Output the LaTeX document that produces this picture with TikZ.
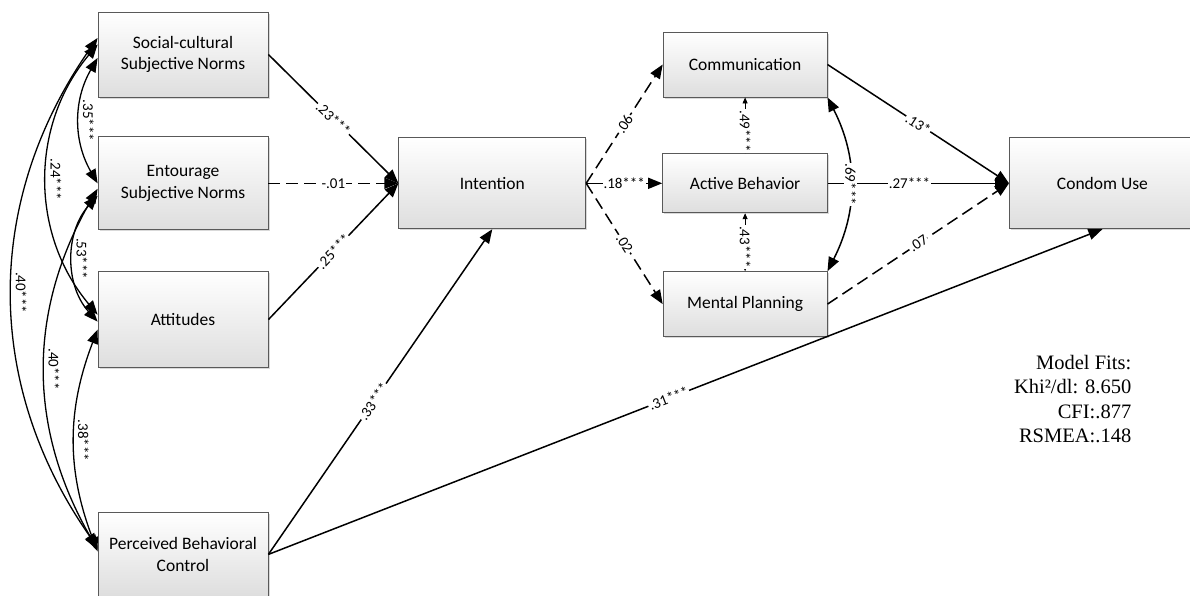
\documentclass[tikz,border=0pt]{standalone}
\usepackage{fontspec}
\setmainfont{Carlito}
\newfontfamily\fitfont{Liberation Serif}
\usetikzlibrary{arrows.meta,positioning,shadows}

\begin{document}
\begin{tikzpicture}[x=1pt,y=1pt,>={Triangle[length=14pt,width=11pt]},line width=1.5pt,node distance=40pt,
  var/.style={draw=black!65,line width=.8pt,top color=white,bottom color=black!13,
    drop shadow={shadow xshift=1.5pt,shadow yshift=-1.5pt,opacity=.3},
    minimum width=170pt,align=center,inner sep=2pt,font=\fontsize{17.5}{21.5}\selectfont},
  coef/.style={sloped,fill=white,inner sep=1pt,font=\fontsize{15}{17}\selectfont},
  vcoef/.style={rotate=-90,fill=white,inner sep=1pt,font=\fontsize{15}{17}\selectfont},
  corr/.style={rotate=-90,anchor=south,inner sep=3pt,font=\fontsize{15}{17}\selectfont},
  ns/.style={dash pattern=on 12pt off 6pt}]

            \useasboundingbox (0,0) rectangle (1190,-595);

            \node[var,minimum height=85pt] (sc) at (183,-54.5) {Social-cultural\\Subjective Norms};
            \node[var,minimum height=93pt] (ent) [below=39pt of sc] {Entourage\\Subjective Norms};
            \node[var,minimum height=96pt] (att) [below=41pt of ent] {Attitudes};
            \node[var,minimum height=84pt] (pbc) [below=144pt of att] {Perceived Behavioral\\Control};
            \node[var,minimum width=187pt,minimum height=91pt] (int) [right=130pt of ent] {Intention};
            \node[var,minimum width=165pt,minimum height=59pt] (act) [right=76pt of int] {Active Behavior};
            \node[var,minimum width=164pt,minimum height=65pt] (com) [above=56pt of act] {Communication};
            \node[var,minimum width=164pt,minimum height=65pt] (mp) [below=58pt of act] {Mental Planning};
            \node[var,minimum width=186pt,minimum height=91pt] (cu) [right=181pt of act] {Condom Use};
            \node[font=\fitfont\fontsize{20.5}{24.5}\selectfont,align=right,anchor=east,inner sep=0pt] (fit) at (1132,-399) {Model Fits:\\Khi²/dl: 8.650\\CFI:.877\\RSMEA:.148};

            \path[->] (sc.east) edge node[coef] {.23***} (int.west)
                      (ent) edge[ns] node[coef] {-.01} (int)
                      (att.east) edge node[coef] {.25***} (int.west)
                      (pbc.east) edge node[coef,pos=.47] {.33***} (int.south)
                      (pbc.east) edge node[coef,pos=.48] {.31***} (cu.south)
                      (int.east) edge[ns] node[coef] {.06} (com.west)
                      (int.east) edge node[coef] {.18***} (act.west)
                      (int.east) edge[ns] node[coef] {.02} (mp.west)
                      (com.east) edge node[coef] {.13*} (cu.west)
                      (act.east) edge node[coef,pos=.45] {.27***} (cu.west)
                      (mp.east) edge[ns] node[coef] {.07} (cu.west);

            \path[{Triangle[length=6pt,width=5pt]}-{Triangle[length=6pt,width=5pt]},line width=.8pt]
                      (com) edge node[vcoef,pos=.6] {.49***} (act)
                      (act) edge node[vcoef,pos=.58] {.43***} (mp);

            \path[<->] (com.south east) edge[bend left=27] node[vcoef] {.69***} (mp.north east);

            \path[<->,line width=1.3pt]
                      ([yshift=16.5pt]sc.west) edge[bend right=35] node[corr] {.40***} ([yshift=7pt]pbc.west)
                      ([yshift=10pt]sc.west) edge[bend right=40] node[corr] {.24***} ([yshift=5pt]att.west)
                      ([yshift=-3.5pt]sc.west) edge[bend right=30] node[corr] {.35***} (ent.west)
                      ([yshift=-5.5pt]ent.west) edge[bend right=30] node[corr] {.40***} ([yshift=5pt]pbc.west)
                      ([yshift=-12.5pt]ent.west) edge[bend right=42] node[corr] {.53***} ([yshift=-2pt]att.west)
                      ([yshift=-10pt]att.west) edge[bend right=21] node[corr] {.38***} ([yshift=3pt]pbc.west);

        \end{tikzpicture}
\end{document}
